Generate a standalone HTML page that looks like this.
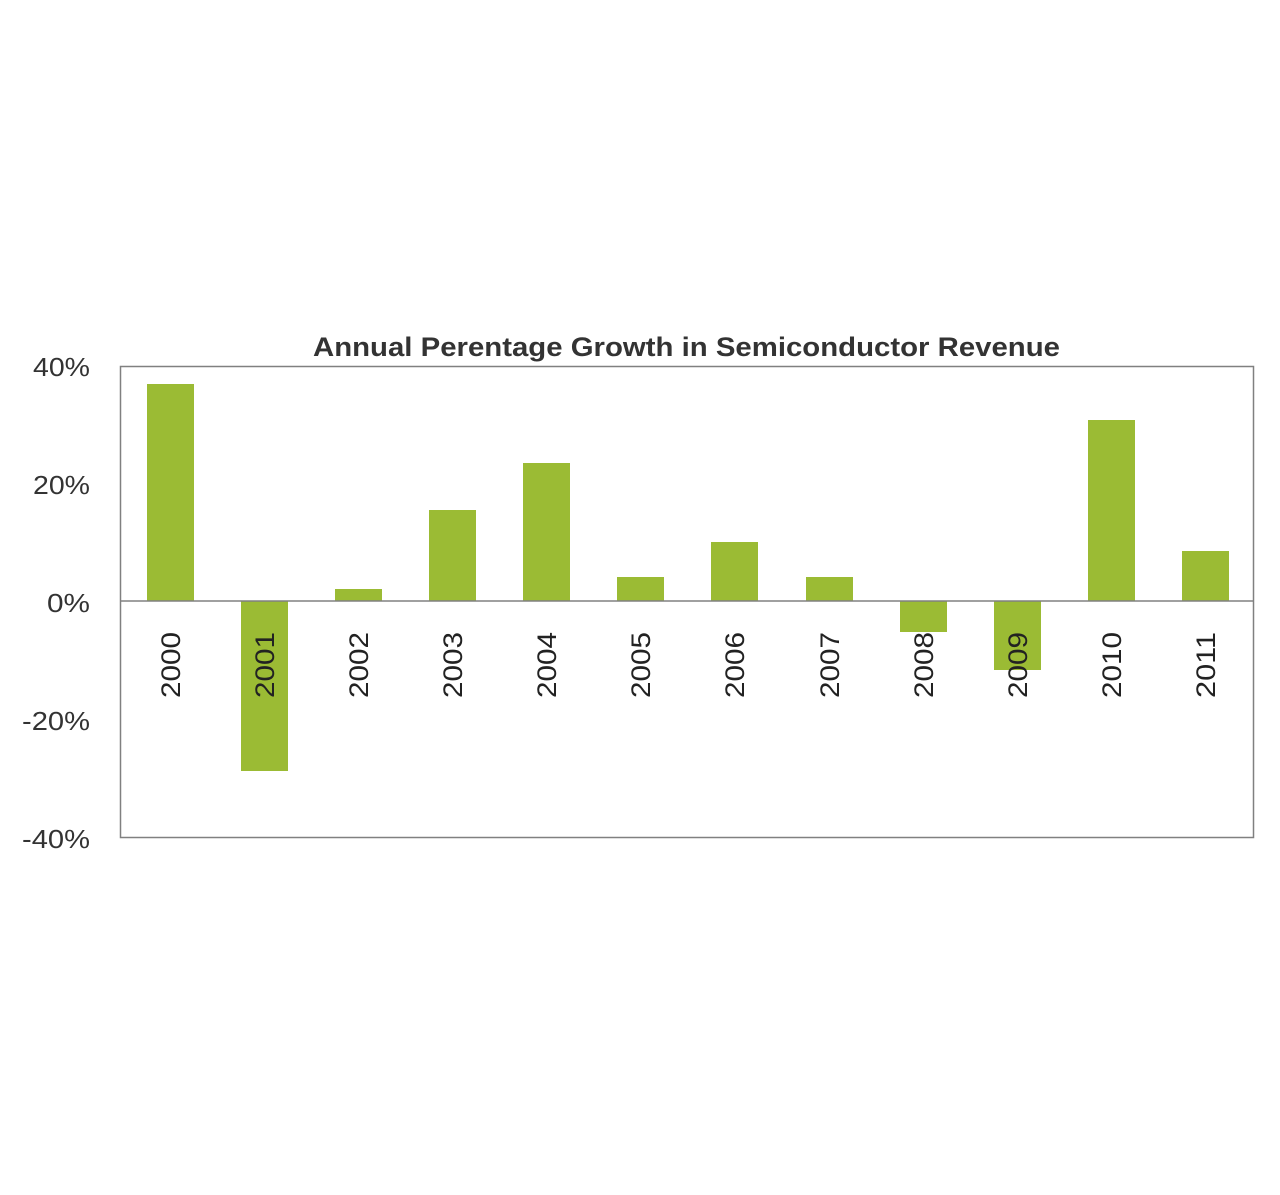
<!DOCTYPE html>
<html><head><style>body{margin:0;background:#fff}</style></head><body>
<svg width="1280" height="1190" xmlns="http://www.w3.org/2000/svg" font-family="Liberation Sans, sans-serif">
<rect width="1280" height="1190" fill="#fff"/>
<text x="313" y="356" font-size="27" font-weight="bold" fill="#333" textLength="747" lengthAdjust="spacingAndGlyphs">Annual Perentage Growth in Semiconductor Revenue</text>
<rect x="120.5" y="366.5" width="1133" height="471" fill="none" stroke="#808080" stroke-width="1.5"/>
<g font-size="26" fill="#333" text-anchor="end">
<text x="90" y="376" textLength="57" lengthAdjust="spacingAndGlyphs">40%</text>
<text x="90" y="494" textLength="57" lengthAdjust="spacingAndGlyphs">20%</text>
<text x="90" y="612" textLength="43" lengthAdjust="spacingAndGlyphs">0%</text>
<text x="90" y="730" textLength="68" lengthAdjust="spacingAndGlyphs">-20%</text>
<text x="90" y="848" textLength="68" lengthAdjust="spacingAndGlyphs">-40%</text>
</g>
<g fill="#9bbb34">
<rect x="147" y="384" width="47" height="217"/>
<rect x="241" y="601" width="47" height="170"/>
<rect x="335" y="589" width="47" height="12"/>
<rect x="429" y="510" width="47" height="91"/>
<rect x="523" y="463" width="47" height="138"/>
<rect x="617" y="577" width="47" height="24"/>
<rect x="711" y="542" width="47" height="59"/>
<rect x="806" y="577" width="47" height="24"/>
<rect x="900" y="601" width="47" height="31"/>
<rect x="994" y="601" width="47" height="69"/>
<rect x="1088" y="420" width="47" height="181"/>
<rect x="1182" y="551" width="47" height="50"/>
</g>
<line x1="120" y1="601" x2="1253" y2="601" stroke="#808080" stroke-width="1.5"/>
<g font-size="27" fill="#222" text-anchor="middle">
<text transform="translate(180,665) rotate(-90)" textLength="66" lengthAdjust="spacingAndGlyphs">2000</text>
<text transform="translate(274,665) rotate(-90)" textLength="66" lengthAdjust="spacingAndGlyphs">2001</text>
<text transform="translate(368,665) rotate(-90)" textLength="66" lengthAdjust="spacingAndGlyphs">2002</text>
<text transform="translate(462,665) rotate(-90)" textLength="66" lengthAdjust="spacingAndGlyphs">2003</text>
<text transform="translate(556,665) rotate(-90)" textLength="66" lengthAdjust="spacingAndGlyphs">2004</text>
<text transform="translate(650,665) rotate(-90)" textLength="66" lengthAdjust="spacingAndGlyphs">2005</text>
<text transform="translate(744,665) rotate(-90)" textLength="66" lengthAdjust="spacingAndGlyphs">2006</text>
<text transform="translate(839,665) rotate(-90)" textLength="66" lengthAdjust="spacingAndGlyphs">2007</text>
<text transform="translate(933,665) rotate(-90)" textLength="66" lengthAdjust="spacingAndGlyphs">2008</text>
<text transform="translate(1027,665) rotate(-90)" textLength="66" lengthAdjust="spacingAndGlyphs">2009</text>
<text transform="translate(1121,665) rotate(-90)" textLength="66" lengthAdjust="spacingAndGlyphs">2010</text>
<text transform="translate(1215,665) rotate(-90)" textLength="66" lengthAdjust="spacingAndGlyphs">2011</text>
</g>
</svg>
</body></html>
